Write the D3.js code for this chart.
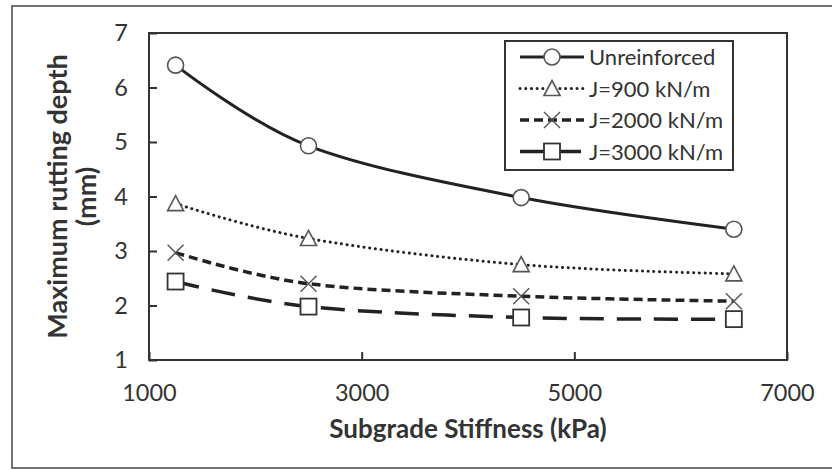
<!DOCTYPE html>
<html>
<head>
  <title>Maximum rutting depth vs subgrade stiffness</title>
  <script src="https://d3js.org/d3.v7.min.js"></script>
  <style>
    body { margin: 0; background: #fff; }
    text { font-family: Lato, "Open Sans", sans-serif; fill: #333; }
  </style>
</head>
<body>

<script>
// data
const stiffness = [1250, 2500, 4500, 6500];
const seriesNames = ['Unreinforced', 'J=900 kN/m', 'J=2000 kN/m', 'J=3000 kN/m'];
const unreinforced = [6.41, 4.93, 3.98, 3.40];
const j900 = [3.87, 3.23, 2.75, 2.58];
const j2000 = [2.97, 2.40, 2.17, 2.08];
const j3000 = [2.44, 1.98, 1.78, 1.75];
const xTicks = [1000, 3000, 5000, 7000];
const yTicks = [1, 2, 3, 4, 5, 6, 7];

const width = 832;
const height = 470;
const margin = { top: 33, right: 45, bottom: 110, left: 149 };

const svg = d3.select('body')
  .append('svg')
  .attr('width', width)
  .attr('height', height);

// outer frame
svg.append('rect')
  .attr('x', 12).attr('y', 6)
  .attr('width', 840).attr('height', 462)
  .attr('fill', 'none')
  .attr('stroke', '#444')
  .attr('stroke-width', 1.5);

const x = d3.scaleLinear().domain([1000, 7000]).range([margin.left, width - margin.right]);
const y = d3.scaleLinear().domain([1, 7]).range([height - margin.bottom, margin.top]);

const g = svg.append('g');

// plot frame
g.append('rect')
  .attr('x', x(1000)).attr('y', y(7))
  .attr('width', x(7000) - x(1000)).attr('height', y(1) - y(7))
  .attr('fill', 'none')
  .attr('stroke', '#333')
  .attr('stroke-width', 2);

// axes (ticks pointing inside)
const yAxis = g.append('g')
  .attr('transform', `translate(${x(1000)},0)`)
  .call(d3.axisLeft(y).tickValues(yTicks).tickSize(-8).tickPadding(21).tickFormat(d3.format('d')));
const xAxis = g.append('g')
  .attr('transform', `translate(0,${y(1)})`)
  .call(d3.axisBottom(x).tickValues(xTicks).tickSize(-8).tickPadding(24).tickFormat(d3.format('d')));

[yAxis, xAxis].forEach(a => {
  a.select('.domain').remove();
  a.selectAll('line').attr('stroke', '#333').attr('stroke-width', 2);
  a.selectAll('text').style('font-size', '23.5px').attr('fill', '#3a3a3a').style('font-family', 'Lato, sans-serif');
});

// axis titles
svg.append('text')
  .attr('x', 468).attr('y', 438)
  .attr('text-anchor', 'middle')
  .style('font-size', '26px').style('font-weight', 'bold')
  .text('Subgrade Stiffness (kPa)');

const yt = svg.append('text')
  .attr('transform', `translate(0,${(y(1) + y(7)) / 2}) rotate(-90)`)
  .attr('text-anchor', 'middle')
  .style('font-size', '27px').style('font-weight', 'bold');
yt.append('tspan').attr('x', 0).attr('y', 67).text('Maximum rutting depth');
yt.append('tspan').attr('x', 0).attr('y', 96).text('(mm)');

const series = [
  { name: seriesNames[0], values: unreinforced, dash: null, width: 3, marker: 'circle' },
  { name: seriesNames[1], values: j900, dash: '0.1,5.6', width: 3, marker: 'triangle' },
  { name: seriesNames[2], values: j2000, dash: '9,5', width: 3.5, marker: 'x' },
  { name: seriesNames[3], values: j3000, dash: '24,13', width: 3.5, marker: 'square' }
];

const line = d3.line()
  .x((d, i) => x(stiffness[i]))
  .y(d => y(d))
  .curve(d3.curveCardinal.tension(0));

function drawMarker(sel, type) {
  const stroke = '#555';
  if (type === 'circle') {
    sel.append('circle').attr('r', 8).attr('fill', '#fff').attr('stroke', stroke).attr('stroke-width', 1.6);
  } else if (type === 'triangle') {
    sel.append('path').attr('d', 'M0,-8L8,7L-8,7Z').attr('fill', '#fff').attr('stroke', stroke).attr('stroke-width', 1.6);
  } else if (type === 'square') {
    sel.append('rect').attr('x', -8).attr('y', -8).attr('width', 16).attr('height', 16)
      .attr('fill', '#fff').attr('stroke', '#333').attr('stroke-width', 1.8);
  } else {
    sel.append('path').attr('d', 'M-8,-8L8,8M-8,8L8,-8').attr('fill', 'none').attr('stroke', stroke).attr('stroke-width', 1.4);
  }
}

series.forEach(s => {
  g.append('path')
    .attr('d', line(s.values))
    .attr('fill', 'none')
    .attr('stroke', '#222')
    .attr('stroke-width', s.width)
    .attr('stroke-linecap', s.marker === 'triangle' ? 'round' : 'butt')
    .attr('stroke-dasharray', s.dash);
  g.selectAll(null)
    .data(s.values)
    .enter().append('g')
      .attr('transform', (d, i) => `translate(${x(stiffness[i])},${y(d)})`)
      .each(function() { drawMarker(d3.select(this), s.marker); });
});

// legend
const legend = svg.append('g');
legend.append('rect')
  .attr('x', 505).attr('y', 41).attr('width', 228).attr('height', 129)
  .attr('fill', '#fff').attr('stroke', '#333').attr('stroke-width', 2);

series.forEach((s, i) => {
  const ly = 57 + i * 31.5;
  legend.append('line')
    .attr('x1', 520).attr('x2', 584).attr('y1', ly).attr('y2', ly)
    .attr('stroke', '#222').attr('stroke-width', s.width)
    .attr('stroke-linecap', s.marker === 'triangle' ? 'round' : 'butt')
    .attr('stroke-dasharray', s.dash);
  const m = legend.append('g').attr('transform', `translate(552,${ly})`);
  drawMarker(m, s.marker);
  legend.append('text')
    .attr('x', 589).attr('y', ly + 8)
    .style('font-size', '22px')
    .text(s.name);
});
</script>

</body>
</html>
